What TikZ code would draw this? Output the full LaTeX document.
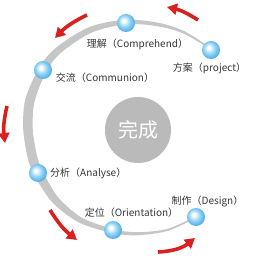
\documentclass[tikz,border=0pt]{standalone}
\usepackage{fontspec}
\setmainfont{Noto Sans CJK SC}
\usepackage{tikz}
\usetikzlibrary{arrows.meta}
\definecolor{arcgray}{RGB}{198,198,198}
\definecolor{hubgray}{RGB}{186,186,186}
\definecolor{ballblue}{RGB}{150,215,245}
\definecolor{balledge}{RGB}{70,165,230}
\definecolor{cyclered}{RGB}{218,32,30}
\definecolor{labelgray}{RGB}{55,55,55}
\pgfdeclareradialshading{bluesphere}{\pgfpoint{-7bp}{7bp}}{%
  color(0bp)=(white); color(4bp)=(white); color(15bp)=(ballblue);
  color(29bp)=(balledge); color(50bp)=(balledge)}

\tikzset{
  stageball/.style={circle, minimum size=18pt, inner sep=0pt, shading=bluesphere},
  stagelabel/.style={inner sep=0pt, text=labelgray, font=\fontsize{10}{12}\selectfont},
  cyclearrow/.style={draw=cyclered, line width=3.6pt, -{Triangle[width=11pt, length=10pt]}}
}

\begin{document}
\begin{tikzpicture}[x=1pt, y=1pt]
    \useasboundingbox[fill=white] (0,0) rectangle (258,259);

    % tapered gray track
    \begin{scope}[shift={(130,132)}]
      \fill[arcgray] plot[smooth] coordinates {(44:113.3) (60:110.2) (74:108.1) (92:107.4) (112:107.9)
          (132:108.3) (146:108.6) (165:108.3) (181:106.8) (196:106.7) (206:107.2) (224:108.2)
          (242:108.3) (261:107.5) (274:108.5) (290:110.5) (306:112.4)}
        -- plot[smooth] coordinates {(306:110.9) (290:108.5) (274:105.5) (261:103.5) (242:102.7)
          (224:100.5) (206:97.8) (196:97.2) (181:97.3) (165:98.8) (146:100.6) (132:101.3)
          (112:101.9) (92:102.9) (74:104.6) (60:107.7) (44:111.8)}
        -- cycle;
    \end{scope}

    % stages
    \node[stageball] (project) at (211,209) {};
    \node[stageball] (comprehend) at (126,236) {};
    \node[stageball] (communion) at (43,189) {};
    \node[stageball] (analyse) at (38,86) {};
    \node[stageball] (orientation) at (113,29) {};
    \node[stageball] (design) at (196,42) {};

    \node[stagelabel] (comprehend-l) at (137.5,215) {理解（Comprehend）};
    \node[stagelabel] (project-l) at (209.5,191) {方案（project）};
    \node[stagelabel] (communion-l) at (105,181) {交流（Communion）};
    \node[stagelabel, anchor=west] (analyse-l) at (50,86) {分析（Analyse）};
    \node[stagelabel] (orientation-l) at (131.5,46) {定位（Orientation）};
    \node[stagelabel] (design-l) at (207.5,58) {制作（Design）};

    % hub
    \node[circle, fill=hubgray, minimum size=66pt, inner sep=0pt, text=white,
      font=\fontsize{20}{22}\selectfont] (hub) at (138,129) {完成};

    % red arrows round the track
    \coordinate (a1s) at (198,239); \coordinate (a1e) at (167,252);
    \coordinate (a2s) at (87,244);  \coordinate (a2e) at (55,221);
    \coordinate (a3s) at (7,153);   \coordinate (a3e) at (5,116);
    \coordinate (a4s) at (50,49);   \coordinate (a4e) at (77,19);
    \coordinate (a5s) at (158,7);   \coordinate (a5e) at (195,21);
    \draw[cyclearrow] (a1s) to[bend right=10] (a1e);
    \draw[cyclearrow] (a2s) to[bend right=10] (a2e);
    \draw[cyclearrow] (a3s) to[bend right=10] (a3e);
    \draw[cyclearrow] (a4s) to[bend right=10] (a4e);
    \draw[cyclearrow] (a5s) to[bend right=18] (a5e);
\end{tikzpicture}
\end{document}
